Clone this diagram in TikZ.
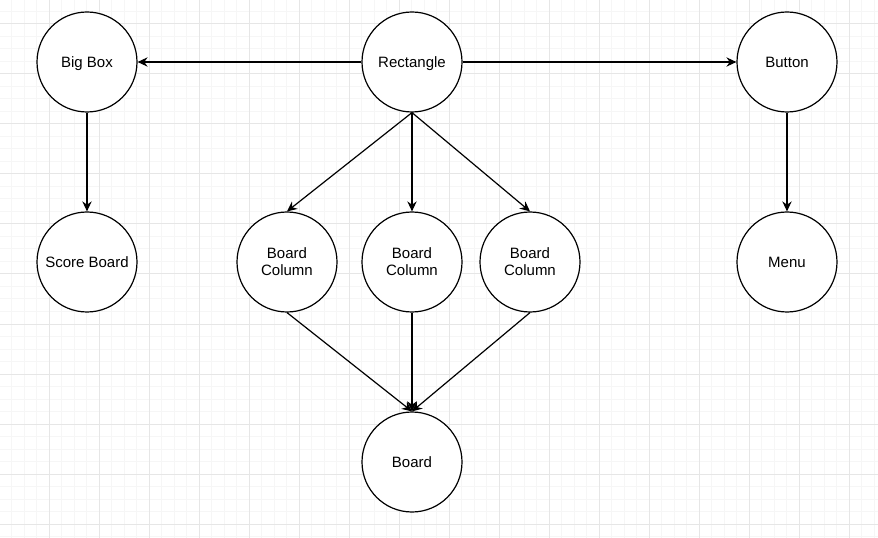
\documentclass[tikz,border=0pt]{standalone}
\usepackage{fontspec}
\setmainfont{Liberation Sans}
\usetikzlibrary{arrows.meta}
\usepackage{xcolor}
\definecolor{gridminor}{HTML}{F6F6F6}
\definecolor{gridmajor}{HTML}{E6E6E6}
\tikzset{
    comp/.style={circle, draw=black, line width=0.9pt, fill=white, minimum size=75pt, inner sep=0pt, align=center, font=\fontsize{11.25}{12.75}\selectfont},
    oneline/.style={comp, text height=9.4pt, text depth=1.4pt},
    link/.style={-{Stealth[length=7.5pt, width=7pt, inset=2.5pt]}, line width=0.9pt}
}

\begin{document}
\begin{tikzpicture}[x=0.75pt, y=-0.75pt]
        \useasboundingbox (0,0) rectangle (878,538);
        \fill[white] (0,0) rectangle (878,538);
        \begin{scope}
        \clip (0,0) rectangle (878,538);
        \foreach \k in {0,...,70} \draw[gridminor, line width=0.75pt] ({-1+12.5*\k},0) -- ({-1+12.5*\k},538);
        \foreach \k in {0,...,43} \draw[gridminor, line width=0.75pt] (0,{-1+12.5*\k}) -- (878,{-1+12.5*\k});
        \foreach \k in {0,...,17} \draw[gridmajor, line width=0.75pt] ({-1+50*\k},0) -- ({-1+50*\k},538);
        \foreach \k in {0,...,10} \draw[gridmajor, line width=0.75pt] (0,{24+50*\k}) -- (878,{24+50*\k});
        \end{scope}

        \node[oneline] (bigbox) at (87,62) {Big Box};
        \node[oneline] (rect) at (412,62) {Rectangle};
        \node[oneline] (button) at (787,62) {Button};
        \node[oneline] (score) at (87,262) {Score Board};
        \node[comp] (colA) at (287,262) {Board\\Column};
        \node[comp] (colB) at (412,262) {Board\\Column};
        \node[comp] (colC) at (530,262) {Board\\Column};
        \node[oneline] (menu) at (787,262) {Menu};
        \node[oneline] (board) at (412,462) {Board};

        \path[link]
            (rect) edge (bigbox)
            (rect) edge (button)
            (bigbox) edge (score)
            (button) edge (menu)
            (rect.south) edge (colA.north)
            (rect.south) edge (colB.north)
            (rect.south) edge (colC.north)
            (colA.south) edge (board.north)
            (colB.south) edge (board.north)
            (colC.south) edge (board.north);

        \end{tikzpicture}
\end{document}
